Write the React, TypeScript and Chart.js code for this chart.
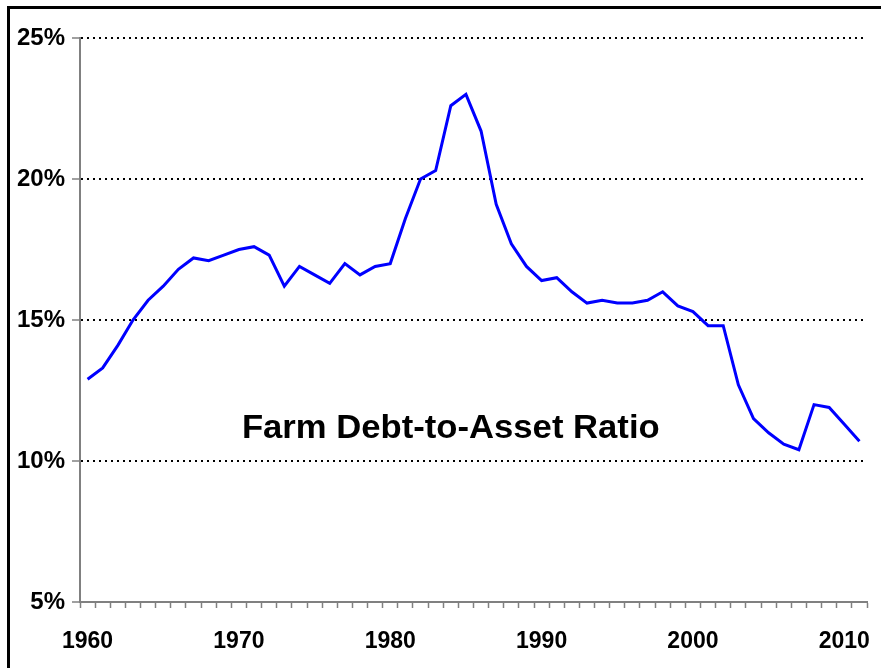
import React, { useEffect, useRef } from "react";
import { Chart, registerables } from "chart.js";

Chart.register(...registerables);

const years: number[] = [
  1960, 1961, 1962, 1963, 1964, 1965, 1966, 1967, 1968, 1969,
  1970, 1971, 1972, 1973, 1974, 1975, 1976, 1977, 1978, 1979,
  1980, 1981, 1982, 1983, 1984, 1985, 1986, 1987, 1988, 1989,
  1990, 1991, 1992, 1993, 1994, 1995, 1996, 1997, 1998, 1999,
  2000, 2001, 2002, 2003, 2004, 2005, 2006, 2007, 2008, 2009,
  2010, 2011,
];

const debtToAssetPct: number[] = [
  12.9, 13.3, 14.1, 15.0, 15.7, 16.2, 16.8, 17.2, 17.1, 17.3,
  17.5, 17.6, 17.3, 16.2, 16.9, 16.6, 16.3, 17.0, 16.6, 16.9,
  17.0, 18.6, 20.0, 20.3, 22.6, 23.0, 21.7, 19.1, 17.7, 16.9,
  16.4, 16.5, 16.0, 15.6, 15.7, 15.6, 15.6, 15.7, 16.0, 15.5,
  15.3, 14.8, 14.8, 12.7, 11.5, 11.0, 10.6, 10.4, 12.0, 11.9,
  11.3, 10.7,
];

const yTickValues: number[] = [5, 10, 15, 20, 25];
const xLabelYears: number[] = [1960, 1970, 1980, 1990, 2000, 2010];

const chartTitle = "Farm Debt-to-Asset Ratio";
const titleAnchorYear = 1984;
const titleAnchorValue = 10.8;

const FONT = "'Liberation Sans', Arial, Helvetica, sans-serif";

const overlayPlugin = {
  id: "overlay",
  afterDraw(chart: any) {
    const ctx = chart.ctx as CanvasRenderingContext2D;
    const w = chart.width;
    const h = chart.height;
    ctx.save();
    // outer frame (left and top edges visible)
    ctx.fillStyle = "#000";
    ctx.fillRect(7, 6, 3, h - 6);
    ctx.fillRect(7, 6, w - 7, 3);
    // in-chart title
    const xs = chart.scales.x;
    const ys = chart.scales.y;
    const tx = xs.getPixelForValue(years.indexOf(titleAnchorYear));
    const ty = ys.getPixelForValue(titleAnchorValue);
    ctx.translate(tx, ty);
    ctx.scale(1.05, 1);
    ctx.font = `bold 33px ${FONT}`;
    ctx.textAlign = "center";
    ctx.textBaseline = "alphabetic";
    ctx.fillStyle = "#000";
    ctx.fillText(chartTitle, 0, 0);
    ctx.restore();
  },
};

export default function App() {
  const canvasRef = useRef<HTMLCanvasElement | null>(null);

  useEffect(() => {
    if (!canvasRef.current) return;
    const chart = new Chart(canvasRef.current, {
      type: "line",
      data: {
        labels: years.map(String),
        datasets: [
          {
            data: debtToAssetPct,
            borderColor: "#0000FF",
            borderWidth: 3,
            pointRadius: 0,
            tension: 0,
            fill: false,
          },
        ],
      },
      options: {
        animation: false,
        responsive: true,
        maintainAspectRatio: false,
        layout: { padding: { top: 38, right: 14, left: 0, bottom: 0 } },
        plugins: {
          legend: { display: false },
          title: { display: false },
          tooltip: { enabled: false },
        },
        scales: {
          x: {
            type: "category",
            offset: true,
            afterFit: (scale: any) => {
              scale.height = 66;
            },
            grid: {
              offset: true,
              drawOnChartArea: false,
              drawTicks: true,
              tickLength: 6,
              tickColor: "#808080",
              tickWidth: 1.5,
              color: "#808080",
            },
            border: { display: true, color: "#808080", width: 2 },
            ticks: {
              autoSkip: false,
              maxRotation: 0,
              minRotation: 0,
              padding: 20,
              color: "#000",
              font: { family: FONT, size: 23, weight: "bold" },
              callback: (_v: any, i: number) =>
                xLabelYears.includes(years[i]) ? String(years[i]) : "",
            },
          },
          y: {
            min: 5,
            max: 25,
            afterFit: (scale: any) => {
              scale.width = 80;
            },
            afterBuildTicks: (scale: any) => {
              scale.ticks = yTickValues.map((v) => ({ value: v }));
            },
            grid: {
              drawTicks: true,
              tickLength: 8,
              tickColor: "#808080",
              tickWidth: 1.5,
              lineWidth: 2,
              color: (c: any) =>
                c.tick && c.tick.value === yTickValues[0] ? "rgba(0,0,0,0)" : "#000",
            },
            border: { display: true, color: "#808080", width: 2, dash: [2, 4] },
            ticks: {
              padding: 7,
              color: "#000",
              font: { family: FONT, size: 24, weight: "bold" },
              callback: (v: any) => `${v}%`,
            },
          },
        },
      },
      plugins: [overlayPlugin],
    } as any);
    return () => chart.destroy();
  }, []);

  return (
    <div
      style={{
        position: "fixed",
        left: 0,
        top: 0,
        width: 881,
        height: 668,
        background: "#fff",
      }}
    >
      <canvas ref={canvasRef} />
    </div>
  );
}
